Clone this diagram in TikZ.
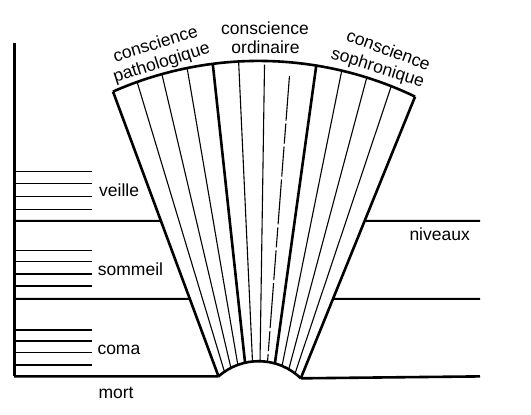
\documentclass[tikz,border=0pt]{standalone}
\usepackage{fontspec}
\setmainfont{Liberation Sans}
\usetikzlibrary{calc}
\newcommand\labfont{\fontsize{17.5}{20}\selectfont}
\begin{document}
\begin{tikzpicture}[x=1pt,y=1pt,line join=round,
  thickline/.style={line width=2.6pt},
  thinline/.style={line width=1.1pt},
  levelline/.style={line width=2pt},
  tickline/.style={line width=1.5pt},
  lab/.style={font=\labfont, inner sep=0pt, anchor=base west},
  toplab/.style={font=\labfont, inner sep=0pt, anchor=base}]
\useasboundingbox (0,0) rectangle (531,415);
\fill[white] (0,0) rectangle (531,415);
\coordinate (O) at (258.6,-6.7);
\foreach \i in {0,...,12} {
  \coordinate (t\i) at ($(O)+({113.8-4.125*\i}:360.8)$);
  \coordinate (b\i) at ($(O)+({131.5-7.1417*\i}:60.5)$);
}
% fan
\draw[thickline] (t0) arc[start angle=113.8, end angle=64.3, radius=360.8];
\draw[thickline] (b0) arc[start angle=131.5, end angle=45.8, radius=60.5];
\foreach \i in {1,2,3,5,9,10,11} \draw[thinline] (t\i) -- (b\i);
\draw[thinline] ($(t6)!0.012!(b6)$) -- (b6);
\draw[thinline, dash pattern=on 45pt off 3pt on 20pt off 3pt on 30pt off 3pt] ($(t7)!0.045!(b7)$) -- (b7);
\foreach \i in {0,4,8,12} \draw[thickline] (t\i) -- (b\i);
% axis and levels
\coordinate (axtop) at (14,371.7);
\coordinate (axbot) at (14,38.6);
\coordinate (rb) at (480,38.6);
\draw[line width=3pt] (axtop) -- (axbot);
\draw[thickline] (axbot) -- (b0);
\draw[thickline] (b12) -- (rb);
\coordinate (h1a) at (14,194); \coordinate (h1b) at (480,194);
\coordinate (h2a) at (14,116); \coordinate (h2b) at (480,116);
\coordinate (e1l) at (intersection of t0--b0 and h1a--h1b);
\coordinate (e1r) at (intersection of t12--b12 and h1a--h1b);
\coordinate (e2l) at (intersection of t0--b0 and h2a--h2b);
\coordinate (e2r) at (intersection of t12--b12 and h2a--h2b);
\draw[levelline] (h1a) -- (e1l);
\draw[levelline] (e1r) -- (h1b);
\draw[levelline] (h2a) -- (e2l);
\draw[levelline] (e2r) -- (h2b);
\foreach \y in {243.3,231.7,218.3,205.7,164.3,153.3,141,129,85,74,62.7,50}
  \draw[tickline] (14,\y) -- (92,\y);
% labels
\node[lab] (veille) at (99,218) {veille};
\node[lab] (sommeil) at (97.7,139) {sommeil};
\node[lab] (coma) at (97.3,60.7) {coma};
\node[lab] (mort) at (98.3,16.7) {mort};
\node[lab] (niveaux) at (409.3,174.3) {niveaux};
\node[toplab] (c2) at (265,380) {conscience};
\node[toplab] (o2) at (265.5,361.7) {ordinaire};
\node[toplab, rotate=17.4] (c1) at (157.1,365.7) {conscience};
\node[toplab, rotate=17.8] (p1) at (163.1,347.4) {pathologique};
\node[toplab, rotate=-20] (c3) at (386.5,359.5) {conscience};
\node[toplab, rotate=-17.4] (s3) at (376.2,342.4) {sophronique};
\end{tikzpicture}
\end{document}
